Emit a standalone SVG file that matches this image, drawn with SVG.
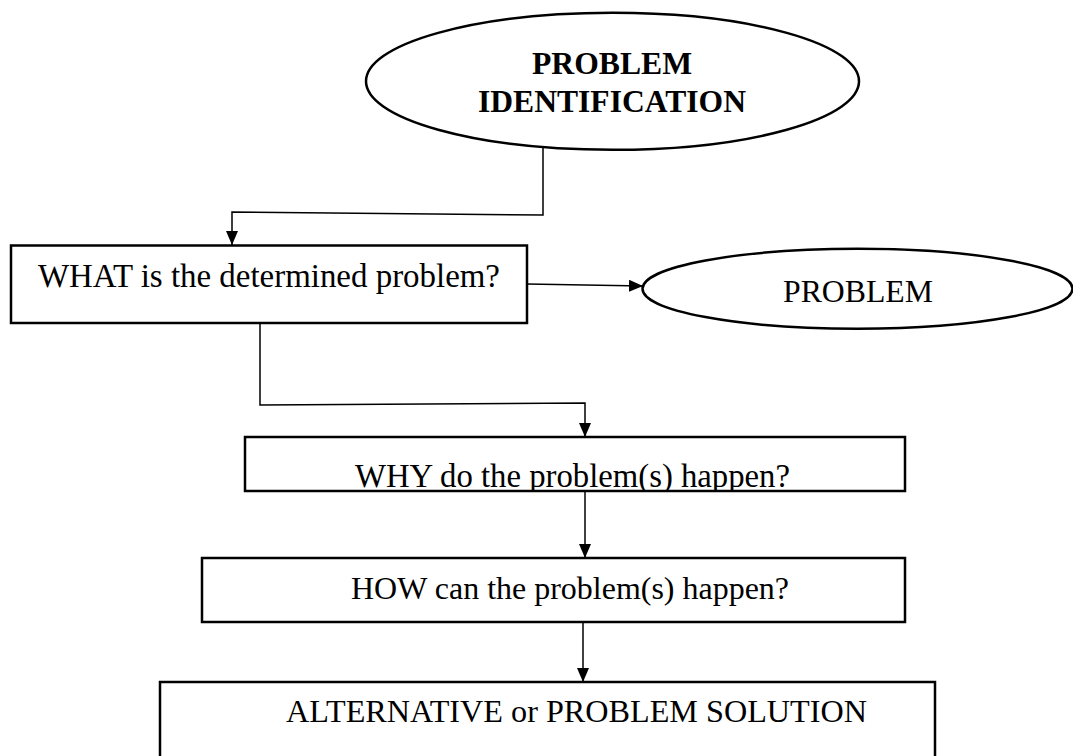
<svg xmlns="http://www.w3.org/2000/svg" width="1073" height="756" viewBox="0 0 1073 756">
<defs>
<marker id="ah" markerWidth="14" markerHeight="12" refX="14" refY="6" orient="auto" markerUnits="userSpaceOnUse">
<path d="M0,0 L14,6 L0,12 Z" fill="#000"/>
</marker>
<clipPath id="clipWhy"><rect x="245" y="437" width="660" height="53"/></clipPath>
<style>
.shape{fill:#fff;stroke:#000;stroke-width:2.5}
.t{font-family:"Liberation Serif","Times New Roman",serif;font-size:32px;fill:#000}
.m{text-anchor:middle}
.b{font-weight:bold}
.c{fill:none;stroke:#000;stroke-width:1.5}
</style>
</defs>
<rect width="1073" height="756" fill="#fff"/>
<g id="connectors">
<polyline class="c" points="543,147 543,215 232,212 232,245" marker-end="url(#ah)"/>
<polyline class="c" points="527,284 643,286" marker-end="url(#ah)"/>
<polyline class="c" points="260,324 260,405 585,403 585,437" marker-end="url(#ah)"/>
<polyline class="c" points="585,491 585,558" marker-end="url(#ah)"/>
<polyline class="c" points="583,622 583,682" marker-end="url(#ah)"/>
</g>
<g id="n-identification">
<ellipse class="shape" cx="612.5" cy="81.3" rx="246.5" ry="68.5"/>
<text class="t m b" x="612" y="74" textLength="160" lengthAdjust="spacingAndGlyphs">PROBLEM</text>
<text class="t m b" x="612" y="112" textLength="268" lengthAdjust="spacingAndGlyphs">IDENTIFICATION</text>
</g>
<g id="n-what">
<rect class="shape" x="11" y="245.5" width="516" height="77.5"/>
<text class="t m" x="269" y="287" style="font-size:33px" textLength="462" lengthAdjust="spacingAndGlyphs">WHAT is the determined problem?</text>
</g>
<g id="n-problem">
<ellipse class="shape" cx="857.5" cy="288.8" rx="215" ry="40"/>
<text class="t m" x="858" y="302" textLength="150" lengthAdjust="spacingAndGlyphs">PROBLEM</text>
</g>
<g id="n-why">
<rect class="shape" x="245" y="437" width="660" height="54"/>
<text class="t" x="355" y="487" clip-path="url(#clipWhy)" style="font-size:33px" textLength="435" lengthAdjust="spacingAndGlyphs">WHY do the problem(s) happen?</text>
</g>
<g id="n-how">
<rect class="shape" x="202" y="558" width="703" height="64"/>
<text class="t" x="351" y="599" textLength="438" lengthAdjust="spacingAndGlyphs">HOW can the problem(s) happen?</text>
</g>
<g id="n-solution">
<rect class="shape" x="160" y="682" width="775" height="100"/>
<text class="t" x="286" y="722" textLength="581" lengthAdjust="spacingAndGlyphs">ALTERNATIVE or PROBLEM SOLUTION</text>
</g>
</svg>
